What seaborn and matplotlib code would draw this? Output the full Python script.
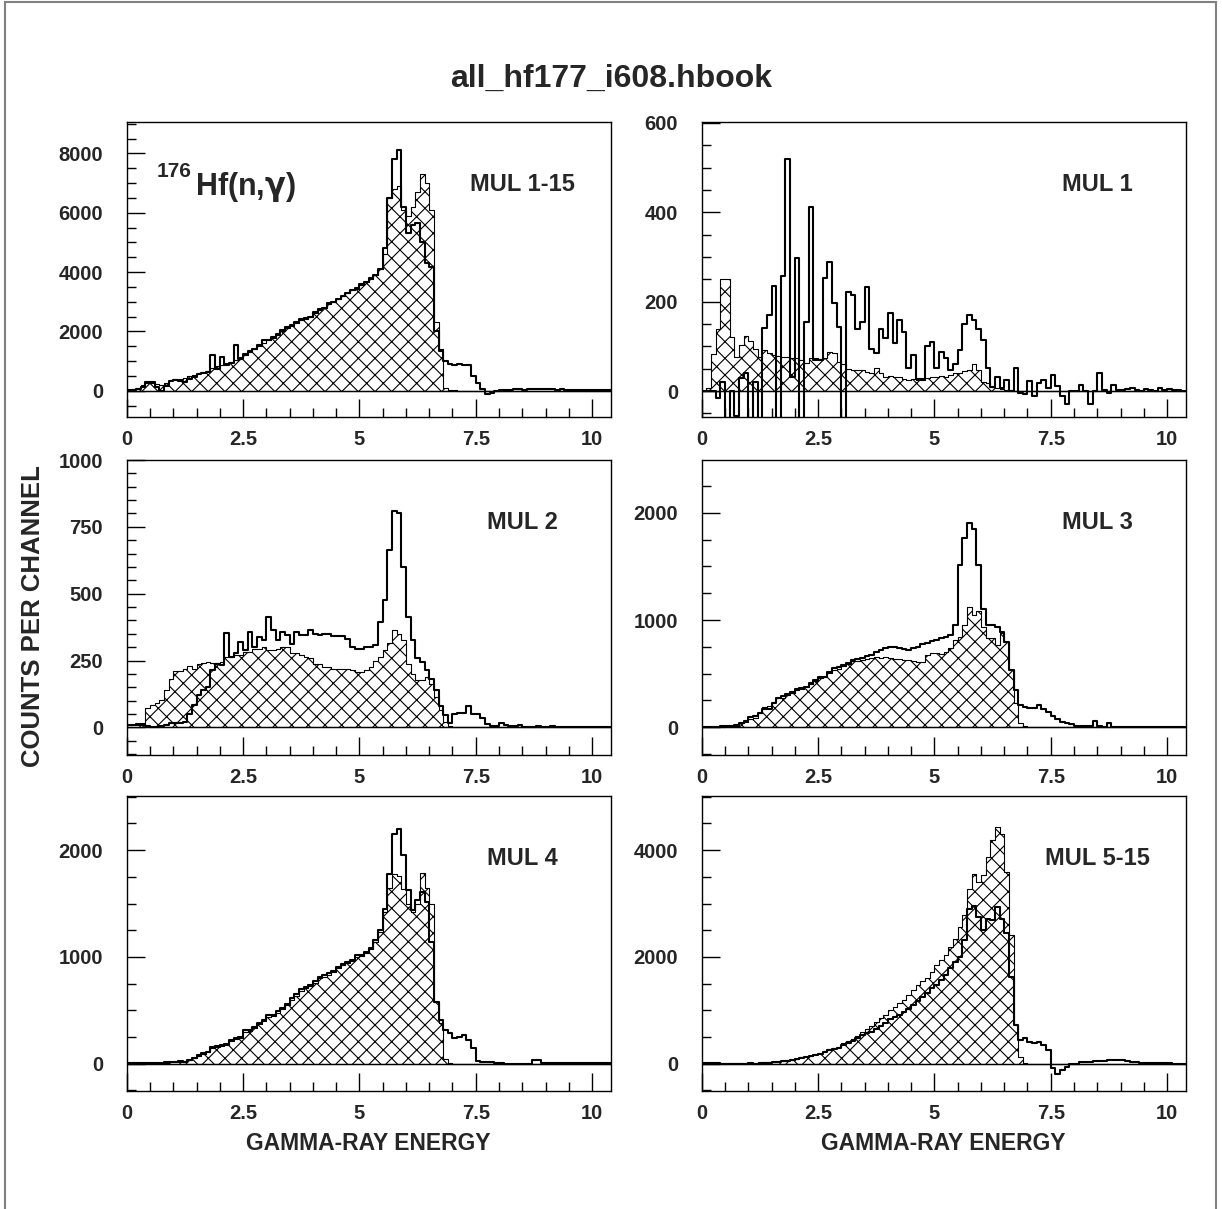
import numpy as np
import pandas as pd
import matplotlib
matplotlib.use("Agg")
import matplotlib.pyplot as plt
from matplotlib.ticker import MultipleLocator, FuncFormatter
from matplotlib.patches import Rectangle
import seaborn as sns

# ---------------- data (counts per 0.1 MeV channel) ----------------
bin_width = 0.1
n_bins = 104
energy_edges = [round(k * bin_width, 2) for k in range(n_bins + 1)]
energy_centers = [round(k * bin_width + bin_width / 2, 3) for k in range(n_bins)]

panel_labels = ["MUL 1-15", "MUL 1", "MUL 2", "MUL 3", "MUL 4", "MUL 5-15"]
x_tick_labels = ["0", "2.5", "5", "7.5", "10"]

mul1_15_open = [
    40, 40, 60, 130, 280, 300, 120, -20, 150, 330,
    360, 330, 300, 380, 450, 560, 580, 640, 1200, 720,
    1120, 870, 950, 1540, 1080, 1250, 1350, 1420, 1550, 1700,
    1720, 1800, 1900, 2050, 2150, 2200, 2300, 2400, 2450, 2500,
    2650, 2750, 2800, 2950, 3000, 3100, 3200, 3300, 3400, 3450,
    3600, 3650, 3800, 3900, 4100, 4800, 6500, 7800, 8100, 6200,
    5300, 5600, 5660, 5000, 4300, 4180, 2000, 1350, 1000, 900,
    850, 900, 880, 850, 500, 250, 50, -120, -80, 0,
    30, 40, 30, 50, 60, 40, 60, 70, 50, 60,
    60, 50, 40, 50, 40, 30, 40, 30, 30, 20, 30, 20, 20, 20]
mul1_15_hatch = [
    20, 60, 100, 180, 250, 260, 240, 200, 260, 350,
    400, 390, 420, 480, 520, 600, 620, 680, 760, 820,
    870, 920, 980, 1050, 1120, 1200, 1300, 1400, 1500, 1620,
    1700, 1780, 1880, 2000, 2100, 2180, 2280, 2380, 2430, 2500,
    2620, 2720, 2800, 2920, 3000, 3080, 3180, 3280, 3380, 3420,
    3550, 3650, 3780, 3900, 4100, 4600, 6500, 6800, 6900, 6100,
    5900, 6200, 6700, 7300, 7000, 6100, 2300, 1400, 80, 20,
    10, 0, 0, 0, 0, 0, 0, 0, 0, 0,
    0, 0, 0, 0, 0, 0, 0, 0, 0, 0,
    0, 0, 0, 0, 0, 0, 0, 0, 0, 0, 0, 0, 0, 0]

mul1_open = [
    0, 0, 0, -15, 20, -80, 0, -55, 30, 40,
    -60, 20, -70, 142, 170, 235, -70, 258, 519, 32,
    297, -70, 155, 412, 69, 69, 254, 288, 198, 144,
    -70, 222, 215, 138, 155, 232, 95, 86, 140, 118,
    174, 107, 159, 133, 51, 81, 26, 26, 100, 110,
    51, 88, 73, 48, 60, 92, 151, 170, 160, 140,
    114, 51, 10, 32, 6, 25, 0, 51, -5, -7,
    23, -11, 17, 25, 8, 36, 11, -11, -28, 0,
    0, 13, 0, -28, 0, 40, 3, -5, 13, 3,
    2, 5, 8, 3, 0, 5, 3, 0, 8, 3, 5, 2, 2, 0]
mul1_hatch = [
    0, 6, 84, 140, 250, 250, 122, 77, 103, 123,
    113, 95, 77, 93, 85, 80, 78, 77, 77, 75,
    73, 70, 62, 73, 73, 72, 74, 88, 85, 66,
    60, 50, 48, 47, 48, 42, 40, 51, 40, 32,
    33, 31, 32, 28, 25, 26, 24, 25, 30, 32,
    31, 33, 32, 35, 40, 40, 45, 47, 60, 47,
    21, 18, 10, 6, 4, 3, 2, 1, 0, 0,
    0, 0, 0, 0, 0, 0, 0, 0, 0, 0,
    0, 0, 0, 0, 0, 0, 0, 0, 0, 0,
    0, 0, 0, 0, 0, 0, 0, 0, 0, 0, 0, 0, 0, 0]

mul2_open = [
    9, 10, 12, 12, 5, 3, 3, 5, 10, 15,
    15, 18, 20, 50, 83, 120, 139, 150, 214, 239,
    233, 353, 264, 280, 320, 289, 357, 301, 338, 326,
    413, 363, 326, 357, 345, 313, 357, 345, 345, 363,
    350, 345, 351, 351, 341, 341, 341, 330, 300, 295,
    295, 301, 301, 307, 394, 475, 662, 810, 800, 600,
    413, 326, 258, 245, 214, 183, 139, 80, 46, 15,
    52, 55, 55, 80, 52, 52, 34, 12, 5, 4,
    15, 8, 5, 5, 10, 3, 2, 0, 5, 0,
    0, 5, 3, 0, 2, 2, 3, 2, 2, 3, 2, 2, 2, 2]
mul2_hatch = [
    8, 8, 9, 10, 71, 83, 90, 104, 139, 183,
    211, 211, 220, 230, 220, 239, 240, 245, 240, 240,
    243, 264, 264, 270, 270, 282, 282, 295, 295, 301,
    289, 289, 295, 301, 301, 279, 279, 272, 264, 260,
    239, 239, 226, 226, 220, 220, 220, 218, 215, 208,
    208, 215, 226, 250, 265, 289, 316, 363, 348, 326,
    239, 200, 177, 177, 189, 164, 114, 65, 21, 5,
    0, 0, 0, 0, 0, 0, 0, 0, 0, 0,
    0, 0, 0, 0, 0, 0, 0, 0, 0, 0,
    0, 0, 0, 0, 0, 0, 0, 0, 0, 0, 0, 0, 0, 0]

mul3_open = [
    5, 5, 6, 6, 8, 10, 12, 20, 37, 60,
    100, 110, 130, 168, 168, 224, 270, 292, 310, 332,
    354, 370, 379, 410, 441, 472, 472, 519, 550, 560,
    581, 600, 627, 634, 643, 660, 674, 700, 721, 740,
    745, 745, 740, 730, 721, 740, 752, 780, 789, 800,
    810, 829, 845, 860, 950, 1513, 1761, 1900, 1850, 1513,
    1100, 954, 950, 938, 891, 798, 534, 348, 208, 186,
    177, 180, 208, 168, 140, 110, 80, 45, 37, 30,
    12, 10, 10, 8, 62, 8, 5, 37, 5, 5,
    6, 5, 5, 4, 5, 4, 4, 5, 4, 3, 3, 3, 3, 3]
mul3_hatch = [
    2, 3, 4, 4, 5, 8, 10, 15, 40, 50,
    75, 90, 130, 190, 199, 240, 270, 275, 300, 320,
    345, 360, 375, 400, 430, 460, 470, 505, 530, 545,
    570, 590, 615, 620, 625, 635, 645, 652, 650, 652,
    643, 640, 634, 630, 625, 615, 612, 612, 674, 690,
    696, 683, 700, 736, 814, 845, 954, 1124, 1047, 1087,
    938, 829, 829, 767, 882, 798, 534, 224, 43, 12,
    0, 0, 0, 0, 0, 0, 0, 0, 0, 0,
    0, 0, 0, 0, 0, 0, 0, 0, 0, 0,
    0, 0, 0, 0, 0, 0, 0, 0, 0, 0, 0, 0, 0, 0]

mul4_open = [
    4, 5, 5, 6, 6, 6, 8, 8, 15, 19,
    20, 22, 20, 34, 56, 80, 97, 112, 159, 165,
    175, 180, 221, 240, 253, 315, 315, 346, 380, 408,
    455, 455, 490, 524, 560, 611, 650, 698, 720, 736,
    770, 814, 830, 845, 870, 907, 930, 954, 970, 1016,
    1016, 1050, 1079, 1157, 1250, 1453, 1780, 2150, 2200, 1950,
    1624, 1437, 1531, 1609, 1515, 1141, 580, 408, 315, 284,
    237, 250, 268, 221, 143, 25, 12, 12, 12, 10,
    10, 0, -6, -6, -6, -5, 0, 34, 34, 10,
    5, 3, 5, 3, 2, 3, 2, 2, 2, 2, 2, 2, 2, 2]
mul4_hatch = [
    3, 4, 4, 5, 5, 5, 6, 6, 10, 15,
    18, 20, 18, 30, 50, 75, 90, 105, 150, 160,
    170, 175, 210, 230, 245, 300, 305, 335, 370, 395,
    440, 445, 475, 510, 550, 595, 635, 680, 705, 725,
    755, 800, 815, 830, 860, 895, 920, 940, 960, 1000,
    1005, 1040, 1070, 1140, 1235, 1420, 1650, 1780, 1760, 1640,
    1500, 1420, 1500, 1790, 1650, 1500, 580, 380, 40, 5,
    0, 0, 0, 0, 0, 0, 0, 0, 0, 0,
    0, 0, 0, 0, 0, 0, 0, 0, 0, 0,
    0, 0, 0, 0, 0, 0, 0, 0, 0, 0, 0, 0, 0, 0]

mul5_15_open = [
    5, 5, 5, 6, 4, 3, 2, 0, 2, 3,
    5, 2, -5, 10, 20, 30, 40, 45, 55, 62,
    80, 110, 125, 140, 165, 185, 220, 250, 280, 300,
    350, 390, 430, 480, 530, 580, 599, 650, 700, 760,
    830, 870, 910, 960, 1030, 1100, 1180, 1250, 1330, 1410,
    1470, 1560, 1659, 1796, 1900, 2002, 2314, 2900, 2950, 2750,
    2501, 2719, 2688, 2938, 2719, 2439, 1628, 723, 443, 474,
    412, 380, 412, 349, 250, -87, -200, -118, -56, -12,
    -12, 25, 25, 25, 50, 50, 50, 62, 62, 62,
    62, 50, 37, 37, 19, 19, 19, 10, 8, 5, 5, 3, 3, 2]
mul5_15_hatch = [
    5, 5, 6, 6, 6, 6, 8, 8, 10, 10,
    12, 15, 25, 35, 37, 40, 45, 50, 62, 69,
    90, 120, 131, 150, 175, 200, 237, 270, 299, 320,
    380, 420, 462, 520, 586, 650, 711, 780, 848, 920,
    1004, 1060, 1129, 1200, 1285, 1378, 1472, 1540, 1597, 1721,
    1846, 1940, 2033, 2189, 2345, 2563, 2782, 3281, 3561, 3405,
    3530, 3873, 4185, 4434, 4310, 3592, 2407, 723, 131, 10,
    0, 0, 0, 0, 0, 0, 0, 0, 0, 0,
    0, 0, 0, 0, 0, 0, 0, 0, 0, 0,
    0, 0, 0, 0, 0, 0, 0, 0, 0, 0, 0, 0, 0, 0]

open_series = [mul1_15_open, mul1_open, mul2_open, mul3_open, mul4_open, mul5_15_open]
hatch_series = [mul1_15_hatch, mul1_hatch, mul2_hatch, mul3_hatch, mul4_hatch, mul5_15_hatch]

# ---------------- style ----------------
sns.set_style("white")
plt.rcParams["font.family"] = ["Liberation Sans", "DejaVu Sans"]
plt.rcParams["font.weight"] = "bold"
plt.rcParams["mathtext.fontset"] = "dejavusans"
plt.rcParams["hatch.linewidth"] = 0.8
plt.rcParams["hatch.color"] = "black"

W, H = 1222, 1209
fig = plt.figure(figsize=(W / 100, H / 100), dpi=100)

col_left = [126.7, 701.7]
col_width = 484.0
row_top = [122, 460, 796]
row_height = 295.0

y_limits = [(-887, 9058), (-58, 602), (-103, 1000), (-258, 2491), (-256, 2507), (-511, 5014)]
y_major = [2000, 200, 250, 1000, 1000, 2000]
y_minor = [500, 50, 50, 250, 250, 500]


def x_fmt(v, pos):
    k = int(round(v / 2.5))
    return x_tick_labels[k] if 0 <= k < len(x_tick_labels) else ""


for i in range(6):
    r, c = divmod(i, 2)
    left = col_left[c] / W
    bottom = 1 - (row_top[r] + row_height) / H
    ax = fig.add_axes([left, bottom, col_width / W, row_height / H])

    df = pd.DataFrame({"energy": energy_centers,
                       "hatched": hatch_series[i],
                       "open": open_series[i]})

    sns.histplot(data=df, x="energy", weights="hatched", bins=energy_edges,
                 element="step", fill=True, facecolor="white", edgecolor="black",
                 hatch="xx", linewidth=0.8, ax=ax)
    sns.histplot(data=df, x="energy", weights="open", bins=energy_edges,
                 element="step", fill=False, color="black", linewidth=1.5, ax=ax)
    ax.axhline(0, color="black", lw=1.0, zorder=1)

    ax.set_xlim(0, 10.4)
    ax.set_ylim(*y_limits[i])
    ax.set_xlabel("")
    ax.set_ylabel("")

    ax.xaxis.set_major_locator(MultipleLocator(2.5))
    ax.xaxis.set_minor_locator(MultipleLocator(0.5))
    ax.xaxis.set_major_formatter(FuncFormatter(x_fmt))
    ax.yaxis.set_major_locator(MultipleLocator(y_major[i]))
    ax.yaxis.set_minor_locator(MultipleLocator(y_minor[i]))
    ax.yaxis.set_major_formatter(FuncFormatter(lambda v, p: "%d" % round(v)))

    ax.tick_params(axis="both", which="both", direction="in", color="black",
                   top=False, right=False, left=True, bottom=True, width=1.0)
    ax.tick_params(axis="both", which="major", length=13, labelsize=14.5)
    ax.tick_params(axis="both", which="minor", length=6.5)
    ax.tick_params(axis="x", which="major", pad=9.5)
    ax.tick_params(axis="y", which="major", pad=17)
    for lab in ax.get_xticklabels() + ax.get_yticklabels():
        lab.set_fontweight("bold")
    for sp in ax.spines.values():
        sp.set_visible(True)
        sp.set_color("black")
        sp.set_linewidth(1.0)

    ax.text(0.817, 0.766, panel_labels[i], transform=ax.transAxes, ha="center",
            va="baseline", fontsize=17, fontweight="bold")

    if i == 0:
        ax.text(0.061, 0.814, "176", transform=ax.transAxes, ha="left", va="baseline",
                fontsize=15, fontweight="bold")
        ax.text(0.141, 0.753, r"Hf(n,$\mathrm{\gamma}$)", transform=ax.transAxes,
                ha="left", va="baseline", fontsize=22, fontweight="bold")

# titles and axis labels
fig.text(0.5, 1 - 86.7 / H, "all_hf177_i608.hbook", ha="center", va="baseline",
         fontsize=23, fontweight="bold")
fig.text(33.5 / W, 1 - 616 / H, "COUNTS PER CHANNEL", rotation=90, ha="center",
         va="center", fontsize=18.5, fontweight="bold")
for cx in [(col_left[0] + col_width / 2) / W, (col_left[1] + col_width / 2) / W]:
    fig.text(cx, 1 - 1150 / H, "GAMMA-RAY ENERGY", ha="center", va="baseline",
             fontsize=16.5, fontweight="bold")

# outer frame
fig.add_artist(Rectangle((5 / W, -0.01), (1216 - 5) / W, 1.01 - 2 / H,
                         transform=fig.transFigure, fill=False,
                         edgecolor="#808080", lw=1.5))

fig.savefig("out.png", dpi=100)
